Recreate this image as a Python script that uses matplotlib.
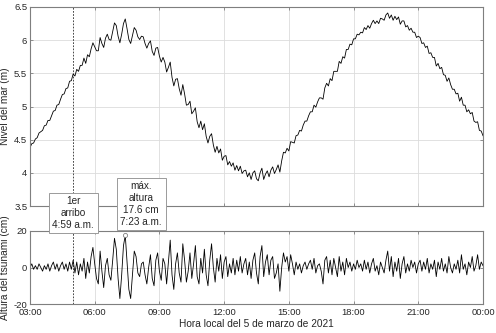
import matplotlib
matplotlib.use("Agg")
import matplotlib.pyplot as plt
import numpy as np

plt.rcParams['font.family'] = ['Liberation Sans', 'DejaVu Sans']
plt.rcParams['axes.unicode_minus'] = False

# ---- data (5-minute samples from 03:00 to 24:00) ----
step_minutes = 5
start_hour = 3

sea_level_m = [
    4.38, 4.44, 4.45, 4.51, 4.53, 4.60, 4.62,
    4.64, 4.71, 4.72, 4.79, 4.79, 4.86,
    4.93, 4.94, 5.02, 5.03, 5.11, 5.18,
    5.19, 5.27, 5.28, 5.38, 5.39, 5.49,
    5.46, 5.56, 5.53, 5.62, 5.62, 5.73,
    5.65, 5.78, 5.75, 5.87, 5.96, 5.90,
    5.84, 5.84, 6.04, 5.95, 5.89, 6.03,
    6.09, 6.01, 6.00, 6.13, 6.26, 6.22,
    6.06, 5.96, 6.09, 6.25, 6.32, 6.17,
    6.01, 5.95, 6.07, 6.19, 6.15, 6.05,
    6.01, 6.06, 6.05, 5.95, 5.88, 5.95,
    5.99, 5.83, 5.77, 5.88, 5.89, 5.76,
    5.67, 5.74, 5.67, 5.52, 5.59, 5.67,
    5.44, 5.31, 5.41, 5.42, 5.27, 5.17,
    5.33, 5.19, 5.02, 5.03, 5.08, 4.89,
    4.93, 4.98, 4.77, 4.68, 4.78, 4.65,
    4.74, 4.55, 4.45, 4.55, 4.59, 4.42,
    4.31, 4.40, 4.30, 4.36, 4.19, 4.25,
    4.26, 4.12, 4.17, 4.10, 4.15, 4.04,
    4.11, 4.03, 4.10, 3.99, 4.03, 4.04,
    3.94, 4.00, 3.90, 4.00, 4.03, 3.91,
    3.88, 4.00, 4.07, 3.90, 3.98, 4.03,
    3.94, 4.04, 4.09, 3.99, 4.05, 4.12,
    4.01, 4.18, 4.31, 4.30, 4.37, 4.33,
    4.47, 4.46, 4.45, 4.56, 4.57, 4.64,
    4.63, 4.72, 4.78, 4.78, 4.86, 4.92,
    4.92, 5.02, 4.99, 5.07, 5.13, 5.13,
    5.11, 5.28, 5.35, 5.31, 5.42, 5.39,
    5.53, 5.53, 5.53, 5.68, 5.65, 5.75,
    5.73, 5.86, 5.86, 5.94, 5.93, 6.02,
    6.02, 6.09, 6.08, 6.12, 6.11, 6.19,
    6.16, 6.22, 6.18, 6.25, 6.30, 6.25,
    6.29, 6.25, 6.33, 6.32, 6.30, 6.38,
    6.41, 6.33, 6.38, 6.30, 6.36, 6.31,
    6.35, 6.24, 6.29, 6.29, 6.20, 6.22,
    6.15, 6.18, 6.12, 6.12, 6.04, 6.06,
    6.04, 5.95, 5.96, 5.89, 5.91, 5.80,
    5.81, 5.74, 5.74, 5.61, 5.65, 5.57,
    5.59, 5.48, 5.47, 5.38, 5.43, 5.33,
    5.26, 5.26, 5.19, 5.20, 5.08, 5.14,
    5.02, 5.02, 4.92, 4.95, 4.89, 4.91,
    4.78, 4.76, 4.77, 4.64, 4.63, 4.56,
]

tsunami_cm = [
    0, 2, -1, 1, -1, 2, 0,
    -2, 1, -1, 2, -2, 1,
    3, -1, 2, -2, 1, 3,
    -1, 2, -2, 3, -1, 4,
    -3, 3, -4, 2, -2, 5,
    -6, 3, -3, 6, 11, 2,
    -6, -9, 9, -2, -11, 1,
    5, -4, -7, 4, 16, 10,
    -6, -17, -4, 12, 17.6, 3,
    -12, -17, -4, 9, 6, -3,
    -5, 2, 3, -4, -9, 0,
    7, -6, -10, 4, 8, -2,
    -7, 5, 2, -9, 3, 15,
    -4, -12, 2, 8, -3, -8,
    13, 4, -8, -2, 8, -6,
    2, 12, -5, -9, 5, -3,
    10, -4, -10, 4, 13, 0,
    -8, 5, -2, 7, -6, 3,
    6, -5, 2, -3, 5, -4,
    4, -2, 6, -3, 2, 5,
    -4, 3, -6, 4, 8, -3,
    -9, 6, 12, -5, 3, 7,
    -4, 4, 6, -6, -3, 2,
    -13, 0, 8, 3, 6, -2,
    7, 2, -4, 3, -1, 2,
    -3, 1, 3, -1, 2, 4,
    -1, 5, -3, 1, 2, -2,
    -9, 4, 6, -3, 4, -4,
    5, 0, -5, 6, -2, 3,
    -4, 5, 0, 3, -2, 2,
    -1, 4, 0, 2, -2, 4,
    -1, 3, -3, 2, 5, -2,
    1, -4, 3, 0, -3, 4,
    9, -2, 6, -5, 3, -2,
    5, -6, 2, 6, -3, 2,
    -2, 4, 0, 3, -3, 2,
    4, -2, 3, -1, 5, -3,
    2, -1, 4, -5, 3, -1,
    5, -2, 2, -3, 6, 0,
    -3, 2, -1, 4, -3, 7,
    -1, 2, -4, 3, 0, 6,
    -2, 1, 7, -1, 3, 1,
]

arrival_hour = 4 + 59 / 60
max_hour = 7 + 23 / 60
max_value_cm = 17.6

xtick_hours = [3, 6, 9, 12, 15, 18, 21, 24]
xtick_labels = ["03:00", "06:00", "09:00", "12:00", "15:00", "18:00", "21:00", "00:00"]
top_yticks = [3.5, 4, 4.5, 5, 5.5, 6, 6.5]
top_ylabels = ["3.5", "4", "4.5", "5", "5.5", "6", "6.5"]
bottom_yticks = [-20, 0, 20]

arrival_text = "1er\narribo\n4:59 a.m."
max_text = "máx.\naltura\n17.6 cm\n7:23 a.m."

# ---- figure ----
hours = start_hour + np.arange(len(sea_level_m)) * step_minutes / 60.0

W, H = 496, 333
fig = plt.figure(figsize=(W / 100, H / 100), dpi=100)

def px_axes(x0, y0, x1, y1):
    return fig.add_axes([x0 / W, 1 - y1 / H, (x1 - x0) / W, (y1 - y0) / H])

ax1 = px_axes(30, 7, 483, 206)
ax2 = px_axes(30, 231, 483, 304)

box_col = "#7f7f7f"
txt_col = "#262626"
fs = 6.8
lfs = 7.3

for ax in (ax1, ax2):
    ax.set_xlim(3, 24)
    ax.set_xticks(xtick_hours)
    ax.grid(True, color="#dcdcdc", linewidth=0.6)
    ax.set_axisbelow(True)
    for s in ax.spines.values():
        s.set_color(box_col)
        s.set_linewidth(0.8)
    ax.tick_params(direction="in", length=2.5, width=0.6, color=box_col,
                   labelsize=fs, labelcolor=txt_col, top=True, right=True, pad=2)
    ax.axvline(arrival_hour, color="black", linestyle=(0, (2.5, 2)), linewidth=0.5)

ax1.plot(hours, sea_level_m, color="black", linewidth=0.6)
ax1.set_ylim(3.5, 6.5)
ax1.set_yticks(top_yticks)
ax1.set_yticklabels(top_ylabels)
ax1.set_xticklabels([])
ax1.set_ylabel("Nivel del mar (m)", fontsize=lfs, color=txt_col, labelpad=3)

ax2.plot(hours, tsunami_cm, color="black", linewidth=0.6)
ax2.plot([max_hour], [max_value_cm], marker="o", markersize=3, markerfacecolor="white",
         markeredgecolor="#808080", markeredgewidth=0.6, zorder=5, clip_on=False)
ax2.set_ylim(-20, 20)
ax2.set_yticks(bottom_yticks)
ax2.set_xticklabels(xtick_labels)
ax2.tick_params(axis="x", pad=3)
ax2.yaxis.set_label_coords(-20 / 453, 0.5)
ax2.set_ylabel("Altura del tsunami (cm)", fontsize=lfs, color=txt_col)
ax2.set_xlabel("Hora local del 5 de marzo de 2021", fontsize=lfs, color=txt_col, labelpad=1)

bbox = dict(boxstyle="square,pad=0.35", facecolor="white", edgecolor="#9a9a9a", linewidth=0.7)
fig.text(73.3 / W, 1 - 213 / H, arrival_text, ha="center", va="center", fontsize=7.2,
         color=txt_col, bbox=bbox, linespacing=1.22, zorder=10)
fig.text(141.2 / W, 1 - 204 / H, max_text, ha="center", va="center", fontsize=7.2,
         color=txt_col, bbox=bbox, linespacing=1.22, zorder=10)

fig.savefig("out.png", dpi=100)
